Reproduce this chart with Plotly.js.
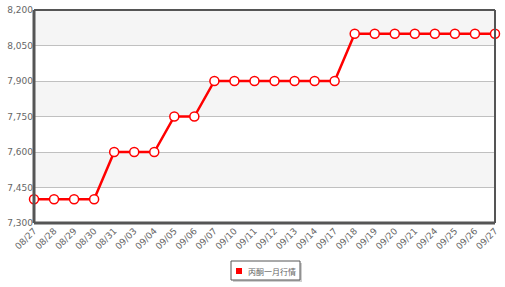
<!DOCTYPE html>
<html>
<head>
<meta charset="utf-8">
<script src="https://cdn.plot.ly/plotly-3.0.1.min.js"></script>
<style>html,body{margin:0;padding:0;background:#fff;}#chart{width:505px;height:287px;}</style>
</head>
<body>
<div id="chart"></div>
<script>
const dates = ["08/27","08/28","08/29","08/30","08/31","09/03","09/04","09/05","09/06","09/07","09/10","09/11","09/12","09/13","09/14","09/17","09/18","09/19","09/20","09/21","09/24","09/25","09/26","09/27"];
const prices = [7400,7400,7400,7400,7600,7600,7600,7750,7750,7900,7900,7900,7900,7900,7900,7900,8100,8100,8100,8100,8100,8100,8100,8100];
const seriesName = "丙酮一月行情";
const yTicks = [7300,7450,7600,7750,7900,8050,8200];

// pixel helpers for the legend box (plot area: x 34..495, y 10..223)
const PL = 34, PW = 461, PB = 223, PH = 213;
const px = v => (v - PL) / PW;
const py = v => (PB - v) / PH;

const bands = [];
for (let i = 1; i < yTicks.length; i += 2) {
  bands.push({type:'rect', xref:'paper', yref:'y', x0:0, x1:1, y0:yTicks[i], y1:yTicks[i+1], fillcolor:'#f5f5f5', line:{width:0}, layer:'below'});
}
const frame = [
  {type:'line', xref:'paper', yref:'paper', x0:0, x1:1, y0:1, y1:1, line:{color:'#555', width:2}},
  {type:'line', xref:'paper', yref:'paper', x0:1, x1:1, y0:0, y1:1, line:{color:'#555', width:2}},
  {type:'line', xref:'paper', yref:'paper', x0:0, x1:0, y0:0, y1:1, line:{color:'#555', width:3}},
  {type:'line', xref:'paper', yref:'paper', x0:0, x1:1, y0:0, y1:0, line:{color:'#555', width:3}}
];
const legendShapes = [
  {type:'rect', xref:'paper', yref:'paper', x0:px(233), x1:px(302), y0:py(263), y1:py(282), fillcolor:'#cfcfcf', line:{width:0}},
  {type:'rect', xref:'paper', yref:'paper', x0:px(231), x1:px(300), y0:py(261), y1:py(280), fillcolor:'#ffffff', line:{color:'#555', width:1}},
  {type:'rect', xref:'paper', yref:'paper', x0:px(236), x1:px(242), y0:py(268), y1:py(274), fillcolor:'#ff0000', line:{width:0}}
];

const trace = {
  x: dates, y: prices, name: seriesName, type:'scatter', mode:'lines+markers',
  line:{color:'#ff0000', width:2.5},
  marker:{symbol:'circle', size:9, color:'#ffffff', line:{color:'#ff0000', width:1.5}},
  cliponaxis:false, showlegend:false
};

const layout = {
  width:505, height:287,
  margin:{l:34, r:10, t:10, b:64},
  paper_bgcolor:'#ffffff', plot_bgcolor:'#ffffff',
  font:{family:'DejaVu Sans, sans-serif', size:9, color:'#666'},
  showlegend:false,
  xaxis:{type:'category', range:[0, dates.length-1], tickangle:-45, showgrid:false, zeroline:false,
    showline:false, ticks:'', tickfont:{size:9, color:'#666'}, automargin:false},
  yaxis:{range:[7300,8200], tickvals:yTicks, tickformat:',d', showgrid:true, gridcolor:'#c0c0c0', gridwidth:1,
    zeroline:false, showline:false, ticks:'', tickfont:{size:9, color:'#666'}, automargin:false},
  shapes: bands.concat(frame, legendShapes),
  annotations:[{xref:'paper', yref:'paper', x:px(246), y:py(271), xanchor:'left', yanchor:'middle', showarrow:false,
    text: seriesName, font:{family:'Noto Sans CJK SC, sans-serif', size:8, color:'#666'}}]
};

Plotly.newPlot('chart', [trace], layout, {displayModeBar:false, staticPlot:true});
</script>
</body>
</html>
